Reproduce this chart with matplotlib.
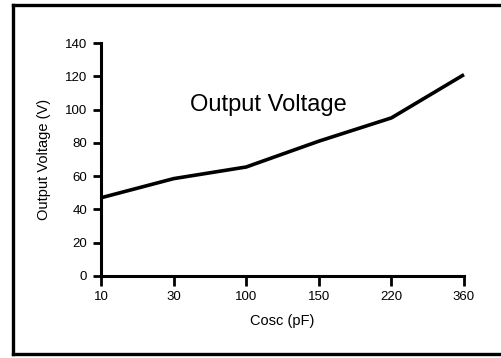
import matplotlib
matplotlib.use("Agg")
import matplotlib.pyplot as plt
from matplotlib.lines import Line2D

plt.rcParams['font.family'] = ['Liberation Sans', 'DejaVu Sans']

# data
cosc_labels = ['10', '30', '100', '150', '220', '360']
output_voltage = [47, 58.5, 65.5, 81, 95, 121]
y_ticks = [0, 20, 40, 60, 80, 100, 120, 140]

W, H = 501, 358
fig = plt.figure(figsize=(W / 100, H / 100), dpi=100)
ax = fig.add_axes([101 / W, 1 - 276 / H, (464 - 101) / W, (276 - 43) / H])

xpos = list(range(len(cosc_labels)))
ax.plot(xpos, output_voltage, color='black', lw=2.6, solid_capstyle='butt', clip_on=False)

ax.set_xlim(0, len(cosc_labels) - 1)
ax.set_ylim(0, 140)
ax.set_xticks(xpos)
ax.set_xticklabels(cosc_labels)
ax.set_yticks(y_ticks)

for s in ['top', 'right']:
    ax.spines[s].set_visible(False)
for s in ['left', 'bottom']:
    ax.spines[s].set_linewidth(2.2)
    ax.spines[s].set_capstyle('projecting')

ax.tick_params(axis='x', direction='out', length=7, width=2.0, pad=4, labelsize=9.5)
ax.tick_params(axis='y', direction='out', length=6, width=2.0, pad=4, labelsize=9.5)

ax.set_xlabel('Cosc (pF)', fontsize=10.5, labelpad=8)
ax.set_ylabel('Output Voltage (V)', fontsize=10.5, labelpad=10)

ax.text(2.3, 103, 'Output Voltage', fontsize=17, ha='center', va='center')

# outer frame (left, top, bottom only)
lw = 2.4
fig.add_artist(Line2D([13 / W, 13 / W], [1 - 5 / H, 1 - 354 / H], color='black', lw=lw,
                      transform=fig.transFigure, solid_capstyle='projecting'))
fig.add_artist(Line2D([13 / W, 1.0], [1 - 5 / H, 1 - 5 / H], color='black', lw=lw,
                      transform=fig.transFigure))
fig.add_artist(Line2D([13 / W, 1.0], [1 - 354 / H, 1 - 354 / H], color='black', lw=lw,
                      transform=fig.transFigure))

fig.savefig('out.png', dpi=100)
